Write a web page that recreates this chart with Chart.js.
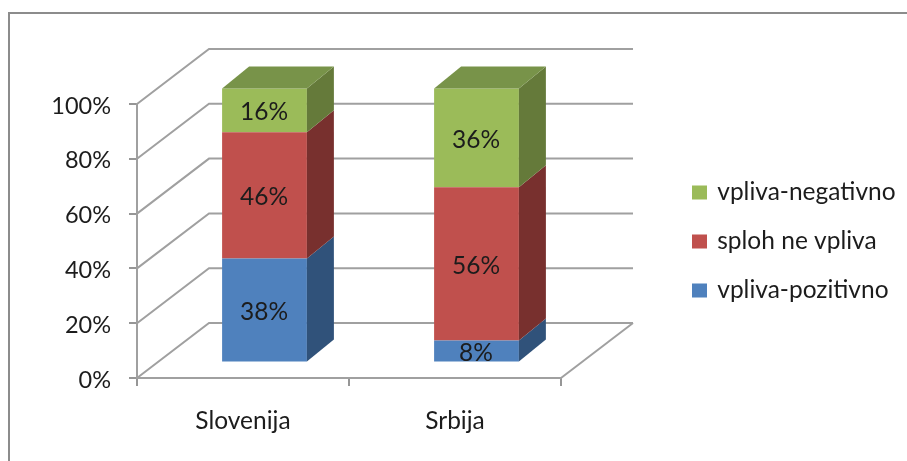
<!DOCTYPE html>
<html>
<head>
<meta charset="utf-8">
<style>
  html, body { margin: 0; padding: 0; background: #fff; }
  canvas { display: block; filter: blur(0.5px); }
</style>
<script src="https://cdn.jsdelivr.net/npm/chart.js@4/dist/chart.umd.min.js"></script>
</head>
<body>
<canvas id="chart" width="907" height="461"></canvas>
<script>
const categories = ["Slovenija", "Srbija"]
const pozitivno = [38, 8]
const neVpliva = [46, 56]
const negativno = [16, 36]

const fontName = "Lato, 'Open Sans', sans-serif"
const textColor = "#1c1c1c"
const lineColor = "#a0a0a0"

// wall/floor depth, bar front offset inside it, and bar depth (px)
const wall = { dx: 72, dy: -55 }
const barShift = { dx: 21.5, dy: -15.5 }
const barDepth = { dx: 27, dy: -22 }

function poly(ctx, pts, color){
    ctx.fillStyle = color
    ctx.beginPath()
    pts.forEach((p, i)=> i ? ctx.lineTo(p[0], p[1]) : ctx.moveTo(p[0], p[1]))
    ctx.closePath()
    ctx.fill()
}

const frame = {
    id: "frame",
    beforeDraw(chart){
        const ctx = chart.ctx
        ctx.save()
        ctx.strokeStyle = "#8c8c8c"
        ctx.lineWidth = 2
        ctx.beginPath()
        ctx.moveTo(9, 461)
        ctx.lineTo(9, 13)
        ctx.lineTo(907, 13)
        ctx.stroke()
        ctx.restore()
    }
}

const walls = {
    id: "walls",
    beforeDatasetsDraw(chart){
        const ctx = chart.ctx
        const { left, right } = chart.chartArea
        const y = chart.scales.y
        ctx.save()
        ctx.strokeStyle = lineColor
        ctx.lineWidth = 2
        y.ticks.forEach(t=>{
            const py = y.getPixelForValue(t.value)
            ctx.beginPath()
            ctx.moveTo(left, py)
            ctx.lineTo(left + wall.dx, py + wall.dy)
            ctx.lineTo(right + wall.dx, py + wall.dy)
            ctx.stroke()
        })
        const floorY = y.getPixelForValue(0)
        ctx.beginPath()
        ctx.moveTo(right, floorY)
        ctx.lineTo(right + wall.dx, floorY + wall.dy)
        ctx.stroke()
        ctx.restore()
    }
}

// library bars are shifted back into the box, side and top faces added from their elements
const bars3d = {
    id: "bars3d",
    beforeDatasetsDraw(chart){
        chart.ctx.save()
        chart.ctx.translate(barShift.dx, barShift.dy)
    },
    afterDatasetsDraw(chart){
        const ctx = chart.ctx
        const last = chart.data.datasets.length - 1
        chart.data.datasets.forEach((ds, i)=>{
            chart.getDatasetMeta(i).data.forEach(el=>{
                const l = el.x - el.width / 2
                const r = el.x + el.width / 2
                const d = barDepth
                poly(ctx, [[r, el.y], [r + d.dx, el.y + d.dy], [r + d.dx, el.base + d.dy], [r, el.base]], ds.sideColor)
                if (i === last){
                    poly(ctx, [[l, el.y], [l + d.dx, el.y + d.dy], [r + d.dx, el.y + d.dy], [r, el.y]], ds.topColor)
                }
            })
        })
        ctx.fillStyle = textColor
        ctx.font = "24.5px " + fontName
        ctx.textAlign = "center"
        ctx.textBaseline = "middle"
        chart.data.datasets.forEach((ds, i)=>{
            chart.getDatasetMeta(i).data.forEach((el, j)=>{
                ctx.fillText(ds.data[j] + "%", el.x - 0.5, (el.y + el.base) / 2 + 2)
            })
        })
        ctx.restore()
    }
}

const legendPlace = {
    id: "legendPlace",
    beforeLayout(chart){
        const lg = chart.legend
        if (!lg.wrapped){
            const fit = lg.fit
            lg.fit = function(){ fit.call(this); this.width = 346 }
            lg.wrapped = true
        }
    },
    afterLayout(chart){
        const lg = chart.legend
        lg.left = 694 - chart.options.plugins.legend.labels.padding
        lg.right = 907
        lg.top = 11
        lg.bottom = 472
    }
}

new Chart(document.getElementById("chart"), {
    type: "bar",
    data: {
        labels: categories,
        datasets: [
            { label: "vpliva-pozitivno", data: pozitivno, backgroundColor: "#4f81bd", sideColor: "#30527a", clip: false },
            { label: "sploh ne vpliva", data: neVpliva, backgroundColor: "#c0504d", sideColor: "#78302e", clip: false },
            { label: "vpliva-negativno", data: negativno, backgroundColor: "#9bbb59", sideColor: "#657a3a", topColor: "#789349", clip: false }
        ]
    },
    plugins: [frame, walls, bars3d, legendPlace],
    options: {
        responsive: false,
        animation: false,
        events: [],
        layout: { padding: { top: 104, left: 0, right: 0, bottom: 0 } },
        datasets: { bar: { categoryPercentage: 1, barPercentage: 0.4 } },
        scales: {
            x: {
                stacked: true,
                afterFit(scale){ scale.height = 83 },
                grid: { drawOnChartArea: false, tickLength: 8, color: "#969696", lineWidth: 2 },
                border: { color: "#a0a0a0", width: 2 },
                ticks: { color: textColor, font: { family: fontName, size: 24.5 }, padding: 20, maxRotation: 0 }
            },
            y: {
                stacked: true,
                min: 0,
                max: 100,
                afterFit(scale){ scale.width = 137 },
                grid: { drawOnChartArea: false, tickLength: 8, color: "#969696", lineWidth: 2 },
                border: { color: "#a0a0a0", width: 2 },
                ticks: { stepSize: 20, color: textColor, font: { family: fontName, size: 23.5 }, padding: 18, labelOffset: 2, callback: v=>v + "%" }
            }
        },
        plugins: {
            tooltip: { enabled: false },
            title: { display: false },
            legend: {
                position: "right",
                reverse: true,
                labels: {
                    // small box plus thick same-colour stroke keeps the text gap tight
                    boxWidth: 11,
                    boxHeight: 10,
                    padding: 24.5,
                    color: textColor,
                    font: { family: fontName, size: 24.5 },
                    generateLabels(chart){
                        return Chart.defaults.plugins.legend.labels.generateLabels(chart)
                            .map(item=>({ ...item, lineWidth: 4, strokeStyle: item.fillStyle }))
                    }
                }
            }
        }
    }
})
</script>
</body>
</html>
